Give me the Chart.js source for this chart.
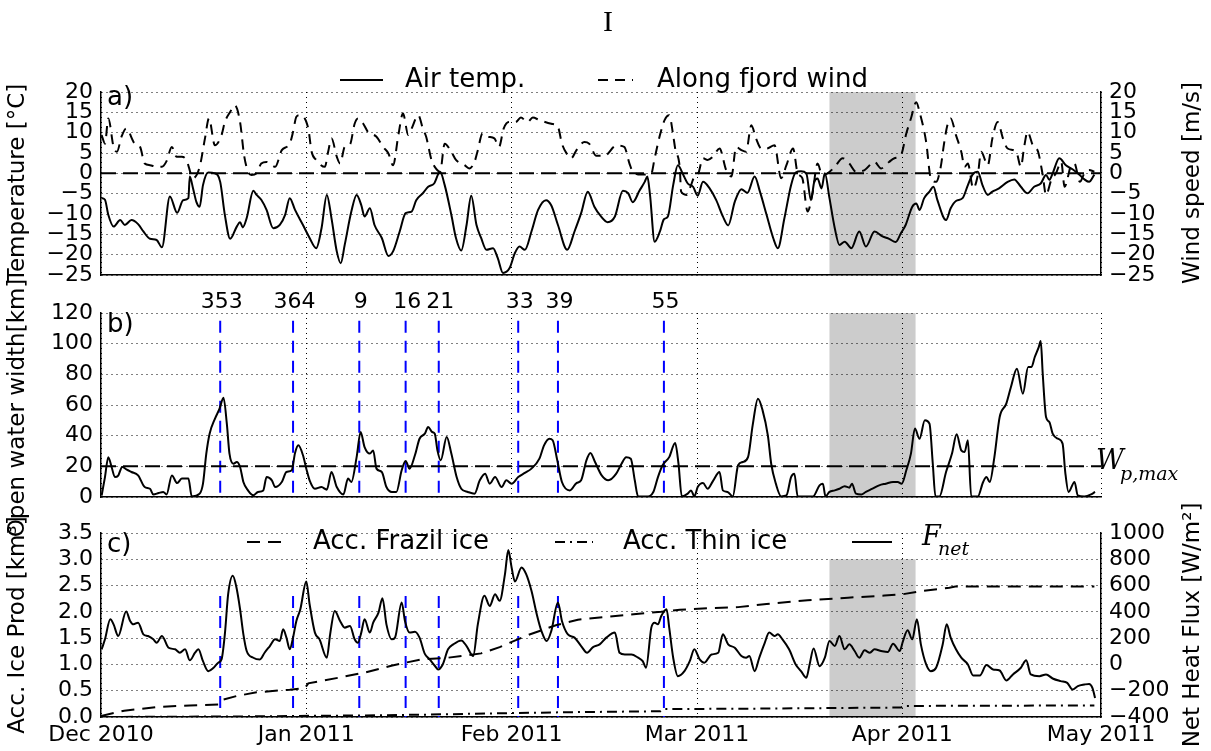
<!DOCTYPE html>
<html>
<head>
<meta charset="utf-8">
<script src="https://cdn.jsdelivr.net/npm/chart.js@4.4.1/dist/chart.umd.min.js"></script>
<style>
  html, body { margin: 0; padding: 0; background: #fff; }
  #wrap { position: relative; width: 1211px; height: 751px; }
  #wrap canvas { position: absolute; left: 0; top: 0; }
</style>
</head>
<body>
<div id="wrap">
  <canvas id="panelA" width="1211" height="751"></canvas>
  <canvas id="panelB" width="1211" height="751"></canvas>
  <canvas id="panelC" width="1211" height="751"></canvas>
</div>
<script>
// x values are days since 1 Dec 2010
const monthTicks = [0, 31, 62, 90, 121, 151];
const monthLabels = ['Dec 2010', 'Jan 2011', 'Feb 2011', 'Mar 2011', 'Apr 2011', 'May 2011'];

// day-of-year of the marked events (blue dashed lines)
const eventDoy = [353, 364, 9, 16, 21, 33, 39, 55];

// shaded period
const shadeStart = 110;
const shadeEnd = 123;

// open water threshold
const wpMax = 20;

// a) air temperature [degC]
const tempDays = [0.1, 0.6, 1.1, 1.9, 2.9, 3.6, 4.6, 5.6, 6.4, 7.4, 8.4, 9.2, 10.4, 11.5, 12.4, 13.2, 13.4, 13.9, 14.4, 14.9,
  15.4, 16.2, 17.2, 18.0, 18.7, 19.5, 20.5, 21.0, 21.4, 22.0, 23.0, 23.5, 24.2, 25.0, 26.0, 27.0, 27.8, 28.5, 29.3, 30.5,
  31.5, 32.5, 33.3, 34.1, 34.8, 35.6, 36.2, 36.8, 37.8, 38.6, 39.3, 39.8, 40.6, 41.3, 42.4, 43.4, 44.1, 45.1, 46.0, 46.9,
  47.6, 48.6, 49.4, 50.3, 51.2, 51.9, 52.9, 53.6, 54.4, 55.2, 55.9, 56.7, 57.4, 58.2, 59.2, 59.9, 60.7, 61.7, 62.5, 63.2,
  64.0, 65.0, 66.0, 67.2, 68.0, 69.0, 70.4, 71.5, 72.5, 73.5, 74.5, 75.5, 76.5, 77.6, 78.8, 79.6, 80.3, 81.3, 82.1, 82.5,
  82.9, 83.6, 84.4, 85.0, 85.6, 86.4, 87.1, 87.9, 88.6, 89.4, 90.1, 90.9, 91.9, 92.9, 93.9, 94.7, 95.7, 96.7, 97.6, 98.7,
  99.5, 100.5, 101.5, 102.2, 103.2, 104.2, 104.9, 105.7, 106.5, 107.2, 107.7, 108.2, 108.8, 109.3, 110.0, 110.8, 111.5, 112.3, 113.3, 114.5,
  115.5, 116.8, 118.0, 119.0, 120.0, 120.8, 121.5, 122.5, 123.1, 123.6, 124.3, 125.1, 125.7, 126.3, 127.6, 128.3, 129.1, 130.1, 130.9, 131.6,
  132.4, 133.1, 133.9, 134.6, 135.6, 136.9, 137.9, 138.9, 139.9, 140.9, 141.9, 142.7, 143.2, 143.7, 144.7, 145.7, 146.7, 147.7, 148.5, 149.2, 150.0];
const tempVals = [-6.1, -6.5, -10.2, -13.1, -11.5, -12.7, -11.5, -12.5, -14.3, -16.1, -16.4, -18.2, -5.7, -9.7, -6.6, -6.1, -0.8, -3.7, -7.0, -8.2,
  -2.9, 0.2, 0.0, -2.1, -10.2, -16.1, -13.1, -12.0, -13.3, -11.0, -4.3, -5.3, -6.5, -9.0, -13.5, -12.7, -10.2, -6.1, -9.0, -12.7,
  -15.9, -18.4, -13.5, -5.3, -11.0, -19.2, -22.1, -17.6, -9.4, -5.3, -7.8, -10.6, -8.6, -12.7, -15.9, -20.3, -19.2, -14.3, -9.8, -9.4,
  -6.6, -4.9, -3.3, -2.5, 0.4, -2.9, -10.2, -15.9, -19.0, -12.7, -5.5, -12.7, -15.9, -18.8, -18.4, -20.8, -24.5, -23.3, -19.6, -18.0,
  -18.8, -14.3, -9.0, -6.6, -7.9, -12.7, -18.8, -14.3, -9.8, -4.5, -8.2, -10.6, -12.0, -10.6, -4.3, -4.9, -7.1, -4.3, -2.1, -0.8,
  -5.3, -16.8, -14.3, -11.3, -10.6, -2.9, 2.0, -0.3, -2.5, -3.3, -5.5, -2.1, -3.7, -6.6, -10.6, -12.8, -7.0, -3.9, -4.8, -0.8,
  -4.5, -10.2, -15.9, -18.4, -11.0, -2.9, 0.2, 0.5, 0.0, -6.6, -2.1, -1.3, -3.7, 0.0, -6.1, -13.5, -17.6, -16.8, -18.4, -14.3,
  -18.0, -14.3, -15.5, -16.1, -16.9, -14.7, -12.7, -8.2, -7.4, -9.0, -6.1, -4.5, -3.3, -6.6, -11.5, -8.6, -6.8, -6.1, -2.9, -0.3,
  0.4, -2.9, -5.3, -4.5, -3.7, -2.1, -1.5, -3.3, -4.9, -3.3, -2.5, -0.4, -1.6, 0.0, 3.7, 2.0, 1.0, -0.3, -1.5, -2.1, -0.3];

// a) along fjord wind [m/s]
const windDays = [0.1, 0.6, 1.1, 1.9, 2.4, 3.1, 3.8, 5.1, 5.9, 6.6, 7.4, 8.4, 9.2, 9.9, 10.7, 11.4, 12.2, 12.9, 13.9, 14.9,
  15.7, 16.3, 17.2, 18.2, 18.7, 19.5, 20.2, 21.0, 21.6, 22.2, 22.7, 23.5, 24.2, 25.0, 25.8, 26.3, 27.3, 28.5, 29.0, 29.5,
  30.0, 31.3, 31.8, 32.5, 33.8, 34.3, 34.8, 35.6, 36.1, 36.8, 37.6, 38.3, 38.8, 39.6, 40.3, 41.6, 42.6, 43.4, 44.1, 44.9,
  45.6, 46.4, 46.9, 47.9, 48.6, 49.1, 49.9, 50.4, 51.2, 51.9, 52.9, 53.6, 54.9, 55.6, 56.4, 56.9, 57.6, 58.4, 59.4, 60.1,
  60.8, 61.6, 62.6, 63.4, 64.4, 65.2, 66.2, 68.0, 69.0, 69.6, 70.3, 71.0, 71.8, 73.0, 73.7, 74.8, 76.0, 77.8, 79.0, 79.8,
  80.3, 81.6, 83.1, 83.6, 84.4, 85.1, 85.8, 86.4, 86.7, 87.4, 87.6, 88.4, 89.1, 89.6, 90.1, 90.9, 91.6, 92.4, 93.4, 94.4,
  95.2, 95.9, 96.7, 97.4, 98.2, 98.9, 99.7, 100.5, 101.7, 102.7, 103.5, 104.5, 105.2, 105.9, 106.7, 107.4, 108.2, 108.9, 109.7, 110.8,
  112.0, 113.0, 114.0, 115.3, 116.8, 117.8, 119.0, 119.8, 120.8, 121.6, 122.3, 123.1, 123.6, 124.6, 125.3, 126.1, 126.8, 127.3, 127.8, 128.3,
  129.1, 129.9, 130.4, 130.9, 131.7, 132.4, 132.9, 133.9, 134.6, 135.4, 136.2, 136.9, 138.2, 138.9, 139.4, 139.9, 140.7, 141.5, 142.2, 142.7,
  143.5, 144.2, 145.0, 145.5, 146.5, 147.0, 147.8, 148.5, 149.2, 150.0];
const windVals = [9.4, 7.3, 13.5, 6.5, 5.3, 9.0, 11.0, 7.3, 6.5, 2.4, 2.0, 1.6, 1.6, 3.0, 6.5, 4.1, 4.1, 3.3, -1.2, 1.6,
  8.6, 13.5, 6.9, 9.4, 12.6, 15.1, 16.7, 12.6, 4.5, 0.4, -0.4, 0.0, 2.4, 2.8, 2.0, 1.6, 5.7, 7.3, 10.2, 13.9,
  14.3, 11.0, 5.3, 3.3, 1.6, 5.3, 8.6, 4.1, 2.4, 6.5, 7.1, 12.2, 13.5, 12.2, 10.2, 9.0, 6.5, 4.9, 2.0, 9.4,
  14.7, 9.4, 11.0, 14.3, 11.0, 9.0, 3.3, 1.6, 0.4, 7.3, 5.3, 3.3, 2.0, 1.2, 2.8, 5.7, 9.8, 9.0, 8.6, 6.5,
  11.0, 12.6, 12.6, 13.7, 12.6, 13.7, 13.1, 12.2, 11.4, 7.3, 4.9, 3.7, 5.7, 7.7, 7.3, 4.3, 4.3, 6.8, 6.5, 2.4,
  0.4, -0.3, 0.0, 3.7, 9.4, 13.1, 14.3, 9.4, 6.1, 1.2, -4.5, -5.3, -2.9, -0.8, -0.4, 3.7, 3.3, 4.1, 6.1, 0.8,
  -0.8, 6.5, 5.7, 5.3, 11.8, 8.6, 6.1, 6.1, 6.9, -1.2, 2.0, 6.1, 0.0, -1.2, -9.4, -5.3, 2.4, -0.4, 0.0, 1.6,
  3.7, 2.4, 0.4, 0.8, 2.8, 1.2, 2.8, 3.7, 4.5, 9.8, 13.5, 17.5, 15.1, 7.7, -1.2, -2.1, 1.6, 7.3, 11.8, 13.5,
  9.4, 5.3, 1.6, 2.4, -3.7, -0.4, 5.3, 2.0, 8.6, 12.6, 8.6, 6.1, 5.3, 1.6, 6.5, 10.2, 6.9, 5.3, -0.4, -5.3,
  -1.6, 0.0, 2.8, -3.3, 2.0, 2.4, -2.1, 0.0, 0.8, 0.4];

// b) open water width [km]
const widthDays = [0.1, 0.6, 1.1, 1.6, 2.1, 2.6, 3.2, 3.9, 4.6, 5.6, 6.6, 7.4, 7.9, 8.7, 9.4, 9.9, 10.7, 11.5, 12.2, 13.2,
  13.7, 14.9, 15.4, 15.9, 16.4, 17.2, 17.9, 18.5, 19.0, 19.4, 20.0, 20.5, 21.0, 21.5, 22.2, 23.0, 23.7, 24.5, 25.0, 25.8,
  26.3, 27.3, 28.0, 28.8, 29.3, 29.8, 30.5, 31.0, 31.5, 32.3, 33.3, 34.1, 34.8, 35.6, 36.6, 37.3, 37.8, 38.6, 39.2, 39.8,
  40.6, 41.1, 41.6, 42.4, 43.1, 43.9, 44.6, 45.4, 46.0, 46.6, 47.4, 48.1, 48.9, 49.4, 50.0, 50.4, 50.8, 51.3, 52.2, 52.9,
  53.7, 54.4, 55.4, 56.4, 57.2, 58.0, 58.7, 59.5, 60.5, 61.2, 62.0, 63.0, 64.0, 65.0, 66.2, 66.9, 67.7, 68.2, 68.9, 69.6,
  70.8, 71.8, 72.5, 73.3, 73.9, 74.6, 75.6, 76.6, 77.8, 78.6, 79.3, 80.0, 80.6, 81.1, 82.6, 83.4, 84.1, 84.8, 85.8, 86.7,
  87.2, 87.7, 88.6, 89.1, 89.6, 90.1, 90.9, 91.6, 92.4, 93.4, 93.9, 94.6, 95.4, 96.2, 96.9, 97.7, 98.4, 99.2, 99.9, 100.7,
  101.2, 101.9, 102.7, 103.5, 104.2, 104.7, 105.2, 107.5, 108.5, 109.0, 109.4, 110.0, 110.8, 111.5, 112.3, 113.0, 113.4, 114.0, 114.8, 115.5,
  116.5, 117.5, 118.5, 119.6, 120.3, 120.9, 121.6, 122.3, 122.9, 123.6, 124.4, 125.1, 125.6, 126.0, 126.6, 127.6, 128.5, 129.2, 129.9, 130.4,
  130.9, 131.4, 132.4, 133.2, 133.7, 134.2, 134.9, 135.7, 136.7, 137.4, 138.3, 139.2, 140.0, 140.5, 141.0, 141.6, 141.9, 142.2, 142.7, 143.2,
  143.7, 144.5, 145.2, 145.6, 146.1, 147.0, 147.5, 148.5, 149.5, 150.1];
const widthVals = [1, 13, 26, 19.6, 13, 14, 19.6, 17.8, 16.3, 14.1, 6.5, 5.4, 1.7, 2.6, 3.3, 1.7, 14.1, 9.1, 12, 12,
  0.4, 2.2, 8.7, 28.3, 41.3, 51, 57.6, 64.8, 47.8, 28.3, 21.7, 22.8, 19.6, 9.8, 4.3, 1.1, 3.3, 4.3, 13, 10.9,
  6.5, 9.8, 16.3, 17.4, 28.7, 33.7, 27.2, 18.5, 10.9, 5.4, 6.5, 4.8, 16.3, 6.5, 1.7, 12, 9.8, 26, 42.4, 32.6,
  28.3, 30.4, 18.5, 16.3, 6.5, 3.3, 3.3, 17.4, 23.5, 18.5, 27.2, 38, 41.3, 45.7, 42.4, 41.3, 30.4, 23.9, 39.1, 28.3,
  13, 5.4, 3.3, 2.2, 10.9, 15.2, 8.7, 13, 6.5, 10.9, 8.7, 13, 15.7, 18.5, 25, 33.7, 38, 37, 23.9, 9.8,
  4.3, 9.1, 10.9, 23.9, 28.7, 22.8, 14.1, 10.9, 15.2, 21.7, 26, 25, 10.9, 0.4, 0.4, 3.3, 13, 20.7, 26, 35.2,
  21.7, 0.4, 2.2, 4.3, 0.4, 6.5, 9.1, 5.4, 10.4, 16.3, 4.3, 3.3, 0.4, 20.7, 22.8, 26, 46.7, 64.1, 56.5, 40,
  21.7, 8.7, 0.4, 1, 13, 15.2, 0.4, 0.4, 7.6, 8.7, 0.4, 3.3, 4.3, 5.4, 7, 6.1, 8.7, 2.2, 1.7, 3.3,
  5.4, 7.6, 8.7, 9.8, 9.8, 8.7, 17.4, 28.3, 44.6, 38, 50, 47.8, 21.7, 0.4, 0.4, 16.3, 28.3, 40.9, 30.4, 29.3,
  37, 0.4, 0.4, 9.8, 13, 9.8, 26, 52.2, 60.9, 71.7, 83.7, 67.4, 84.8, 84.8, 91.3, 97.8, 101.7, 80.4, 52.2, 48.9,
  41.3, 38, 34.8, 16.3, 3.3, 9.8, 1, 0.4, 1.7, 3.3];

// c) net heat flux [W/m2]
const fluxDays = [0.1, 0.6, 1.4, 1.9, 2.6, 3.8, 4.4, 4.9, 5.6, 6.4, 7.1, 7.9, 8.4, 9.2, 10.2, 11.2, 11.9, 12.7, 13.4, 14.2,
  14.7, 15.4, 16.2, 17.0, 17.7, 18.2, 18.7, 19.2, 19.9, 20.4, 21.0, 21.5, 22.0, 23.0, 24.0, 24.7, 25.5, 26.3, 27.0, 27.5,
  28.0, 28.5, 29.0, 29.5, 30.1, 31.0, 31.5, 32.3, 33.0, 34.1, 34.6, 35.3, 36.1, 36.8, 37.6, 38.3, 38.8, 39.3, 39.8, 40.6,
  41.1, 41.9, 42.5, 43.1, 43.9, 44.4, 45.4, 45.9, 46.6, 47.4, 48.1, 48.9, 49.6, 50.4, 50.9, 51.6, 52.4, 53.2, 54.4, 55.2,
  56.2, 56.9, 57.9, 58.7, 59.5, 60.2, 61.0, 61.5, 62.0, 62.5, 63.5, 64.2, 65.0, 65.8, 66.5, 67.3, 68.0, 69.0, 69.6, 70.5,
  71.5, 72.5, 73.4, 74.3, 75.3, 76.3, 77.6, 78.3, 79.1, 80.1, 81.1, 81.8, 82.3, 83.1, 83.6, 84.1, 84.6, 85.4, 85.8, 86.4,
  87.1, 88.1, 88.9, 89.6, 90.4, 91.1, 92.2, 93.2, 93.9, 94.7, 95.7, 96.7, 97.4, 97.9, 98.7, 99.4, 100.2, 100.9, 101.7, 102.2,
  102.9, 103.9, 104.9, 105.7, 106.5, 107.0, 107.6, 108.5, 109.3, 110.0, 110.8, 111.5, 112.3, 113.0, 113.8, 114.5, 115.3, 116.1, 116.8, 117.8,
  118.8, 119.6, 120.6, 121.1, 121.8, 122.5, 123.2, 123.8, 124.6, 125.3, 126.1, 127.1, 127.7, 128.3, 129.1, 129.9, 130.9, 131.7, 132.7, 133.7,
  134.7, 135.7, 136.7, 137.7, 138.9, 139.7, 140.4, 141.7, 142.7, 143.7, 144.9, 145.9, 146.7, 147.5, 148.5, 149.2, 149.7, 150.1];
const fluxVals = [115, 191, 344, 305, 216, 402, 331, 305, 318, 229, 216, 191, 165, 216, 127, 115, 89, 115, 31, 89,
  115, 25, -51, -25, 13, 38, 229, 534, 674, 598, 420, 229, 102, 51, 38, 89, 140, 191, 178, 267,
  204, 115, 204, 331, 420, 631, 458, 242, 191, 51, 229, 407, 331, 280, 293, 191, 165, 242, 344, 242,
  318, 394, 504, 305, 191, 204, 471, 331, 242, 249, 204, 80, 40, -10, -38, 0, 115, 153, 183, 140,
  64, 305, 522, 445, 534, 484, 687, 870, 738, 631, 738, 687, 560, 382, 255, 178, 255, 471, 331, 229,
  204, 140, 89, 132, 153, 204, 242, 89, 76, 76, 51, 25, -25, 280, 318, 305, 369, 420, 280, 51,
  -89, -51, 25, 115, 38, 13, 76, 89, 229, 153, 127, 64, 51, 64, -51, 51, 160, 242, 216, 229,
  191, 115, 0, -51, -102, 0, 122, -13, 51, 178, 140, 216, 115, 153, 102, 51, 107, 89, 115, 102,
  94, 158, 102, 178, 260, 191, 344, 153, 0, -51, -25, 153, 305, 204, 115, 51, 0, -84, -84, -5,
  -38, -46, -122, -76, -25, 31, -76, -89, -76, -107, -127, -140, -191, -165, -153, -148, -178, -255];

// c) accumulated frazil ice production [km3]
const frazilDays = [0, 3.5, 8.4, 13.4, 17.9, 18.4, 20.5, 23.5, 28.5, 30.8, 31.3, 36, 40, 44, 48.5, 51.9, 57.4, 60.2, 64.7, 68.8,
  72.0, 76.6, 80.8, 84.6, 87.4, 91.9, 96.2, 100.5, 106.7, 112.8, 118.3, 120.8, 124.1, 128.1, 129.0, 150.0];
const frazilVals = [0.02, 0.12, 0.19, 0.22, 0.24, 0.33, 0.40, 0.47, 0.52, 0.55, 0.64, 0.75, 0.85, 0.98, 1.10, 1.12, 1.21, 1.33, 1.57, 1.75,
  1.85, 1.91, 1.96, 2.00, 2.04, 2.07, 2.09, 2.15, 2.22, 2.27, 2.31, 2.33, 2.40, 2.46, 2.48, 2.48];

// c) accumulated thin ice production [km3]
const thinDays = [0, 20, 40, 49, 60, 70, 84.5, 85.0, 100, 110, 120.8, 121.2, 150];
const thinVals = [0.0, 0.01, 0.03, 0.045, 0.07, 0.09, 0.11, 0.15, 0.16, 0.17, 0.18, 0.21, 0.22];

const SANS = '"DejaVu Sans", "Liberation Sans", sans-serif';
const SERIF = '"DejaVu Serif", "Liberation Serif", serif';
Chart.defaults.font.family = SANS;
Chart.defaults.font.size = 20;
Chart.defaults.color = '#000';
Chart.defaults.animation = false;

const W = 1211, H = 751;
const PLOT_L = 101, PLOT_R = 1101;

function pts(days, vals) {
  return days.map((d, i) => ({x: d, y: vals[i]}));
}
function withMinus(v) {
  return v < 0 ? '\u2212' + Math.abs(v) : String(v);
}
function eventDay(doy) {
  return doy >= 335 ? doy - 335 : doy + 30;
}
function range(a, b, step) {
  const out = [];
  for (let v = a; v <= b + 1e-9; v += step) out.push(Math.round(v * 100) / 100);
  return out;
}
function line(data, opts) {
  return Object.assign({data, borderColor: '#000', borderWidth: 2, pointRadius: 0, tension: 0, fill: false}, opts);
}
// smoothed series line
function curve(data, opts) {
  return line(data, Object.assign({cubicInterpolationMode: 'monotone'}, opts));
}
function eventLines(top, axis) {
  return eventDoy.map(d => line([{x: eventDay(d), y: top}, {x: eventDay(d), y: 0}],
    {borderColor: '#0000ff', borderDash: [12, 8], yAxisID: axis}));
}
function vText(ctx, text, x, y, font) {
  ctx.save();
  ctx.translate(x, y);
  ctx.rotate(-Math.PI / 2);
  ctx.font = font;
  ctx.textAlign = 'center';
  ctx.textBaseline = 'middle';
  ctx.fillText(text, 0, 0);
  ctx.restore();
}
function legendSample(ctx, x0, x1, y, dash) {
  ctx.save();
  ctx.strokeStyle = '#000';
  ctx.lineWidth = 2;
  ctx.setLineDash(dash);
  ctx.beginPath();
  ctx.moveTo(x0, y);
  ctx.lineTo(x1, y);
  ctx.stroke();
  ctx.restore();
}
function label(ctx, text, x, y, font, align) {
  ctx.save();
  ctx.font = font;
  ctx.textAlign = align || 'left';
  ctx.textBaseline = 'middle';
  ctx.fillText(text, x, y);
  ctx.restore();
}

// grey band for the shaded period, drawn beneath the grid
const shadePlugin = {
  id: 'shade',
  beforeDraw(chart, args, opts) {
    const {ctx, scales} = chart;
    const x0 = scales.x.getPixelForValue(shadeStart);
    const x1 = scales.x.getPixelForValue(shadeEnd);
    const yTop = scales.y.getPixelForValue(opts.top);
    const yBot = scales.y.getPixelForValue(scales.y.min);
    ctx.save();
    ctx.fillStyle = '#cccccc';
    ctx.fillRect(x0, yTop, x1 - x0, yBot - yTop);
    ctx.restore();
  }
};

function makePanel(id, p) {
  const dotted = [1, 4];
  const scales = {
    x: {
      type: 'linear', min: 0, max: 151,
      afterBuildTicks: s => { s.ticks = monthTicks.map(v => ({value: v})); },
      afterFit: s => { s.height = p.xHeight; },
      ticks: {display: p.showX, autoSkip: false, maxRotation: 0, padding: 5, font: {size: 22},
        callback: v => monthLabels[monthTicks.indexOf(v)]},
      grid: {color: '#000', lineWidth: 1, drawTicks: false},
      border: {color: '#000', width: 1.5, dash: dotted}
    },
    y: {
      position: 'left', min: p.left.min, max: p.left.max,
      afterBuildTicks: s => { s.ticks = p.left.ticks.map(v => ({value: v})); },
      afterFit: s => { s.width = PLOT_L; },
      ticks: {autoSkip: false, padding: 8, font: {size: 22}, callback: p.left.fmt},
      grid: {color: '#000', lineWidth: 1, drawTicks: false},
      border: {color: '#000', width: 1.5, dash: dotted}
    }
  };
  if (p.right) {
    scales.y2 = {
      position: 'right', min: p.right.min, max: p.right.max,
      afterBuildTicks: s => { s.ticks = p.right.ticks.map(v => ({value: v})); },
      afterFit: s => { s.width = W - PLOT_R; },
      ticks: {autoSkip: false, padding: 8, font: {size: 22}, callback: p.right.fmt},
      grid: {drawOnChartArea: false, drawTicks: false},
      border: {color: '#000', width: 1.5}
    };
  }
  const decorate = {
    id: 'decorate',
    afterDraw(chart) { p.decorate(chart, chart.ctx); }
  };
  return new Chart(document.getElementById(id), {
    type: 'line',
    data: {datasets: p.datasets},
    options: {
      responsive: false,
      animation: false,
      events: [],
      layout: {padding: {top: p.top, bottom: H - p.bottom - p.xHeight, left: 0, right: p.right ? 0 : W - PLOT_R}},
      scales,
      plugins: {legend: {display: false}, tooltip: {enabled: false}, shade: {top: p.shadeTop}}
    },
    plugins: [shadePlugin, decorate]
  });
}

// a) air temperature and wind
makePanel('panelA', {
  top: 92, bottom: 275, xHeight: 0, showX: false,
  left: {min: -25, max: 20, ticks: range(-25, 20, 5), fmt: withMinus},
  right: {min: -25, max: 20, ticks: range(-25, 20, 5), fmt: withMinus},
  shadeTop: 20,
  datasets: [
    curve(pts(tempDays, tempVals), {yAxisID: 'y'}),
    curve(pts(windDays, windVals), {yAxisID: 'y2', borderDash: [10, 7]}),
    line([{x: 0, y: 0}, {x: 151, y: 0}], {yAxisID: 'y', borderDash: [15, 7]})
  ],
  decorate(chart, ctx) {
    label(ctx, 'I', 608, 23, '30px "Liberation Serif", serif', 'center');
    label(ctx, 'a)', 107, 98, '26px ' + SANS);
    legendSample(ctx, 340, 383, 80, []);
    label(ctx, 'Air temp.', 405, 80, '26px ' + SANS);
    legendSample(ctx, 598, 633, 80, [10, 7]);
    label(ctx, 'Along fjord wind', 657, 80, '26px ' + SANS);
    vText(ctx, 'Temperature [\u00b0C]', 18, 183, '23px ' + SANS);
    vText(ctx, 'Wind speed [m/s]', 1193, 183, '23px ' + SANS);
  }
});

// b) open water width with event markers
makePanel('panelB', {
  top: 313, bottom: 497, xHeight: 0, showX: false,
  left: {min: 0, max: 120, ticks: range(0, 120, 20), fmt: withMinus},
  right: null,
  shadeTop: 120,
  datasets: [
    curve(pts(widthDays, widthVals), {yAxisID: 'y'}),
    line([{x: 0, y: wpMax}, {x: 151, y: wpMax}], {yAxisID: 'y', borderDash: [15, 7]}),
    ...eventLines(115, 'y')
  ],
  decorate(chart, ctx) {
    const xs = chart.scales.x, ys = chart.scales.y;
    label(ctx, 'b)', 107, 325, '26px ' + SANS);
    eventDoy.forEach(d => label(ctx, String(d), xs.getPixelForValue(eventDay(d)) + 1.5, 302, '22px ' + SANS, 'center'));
    const yw = ys.getPixelForValue(wpMax);
    label(ctx, 'W', 1096, yw - 4, 'italic 27px ' + SERIF);
    label(ctx, 'p,max', 1120, yw + 9, 'italic 19px ' + SERIF);
    vText(ctx, 'Open water width[km]', 18, 408, '23px ' + SANS);
  }
});

// c) accumulated ice production and net heat flux
makePanel('panelC', {
  top: 533, bottom: 717, xHeight: 34, showX: true,
  left: {min: 0, max: 3.5, ticks: range(0, 3.5, 0.5), fmt: v => v.toFixed(1)},
  right: {min: -400, max: 1000, ticks: range(-400, 1000, 200), fmt: withMinus},
  shadeTop: 3.0,
  datasets: [
    curve(pts(fluxDays, fluxVals), {yAxisID: 'y2'}),
    line(pts(frazilDays, frazilVals), {yAxisID: 'y', borderDash: [13, 8]}),
    line(pts(thinDays, thinVals), {yAxisID: 'y', borderDash: [10, 5, 2, 5]}),
    ...eventLines(2.3, 'y')
  ],
  decorate(chart, ctx) {
    label(ctx, 'c)', 107, 545, '26px ' + SANS);
    legendSample(ctx, 247, 284, 542, [13, 8]);
    label(ctx, 'Acc. Frazil ice', 313, 542, '26px ' + SANS);
    legendSample(ctx, 555, 593, 542, [10, 5, 2, 5]);
    label(ctx, 'Acc. Thin ice', 623, 542, '26px ' + SANS);
    legendSample(ctx, 852, 892, 542, []);
    label(ctx, 'F', 922, 538, 'italic 27px ' + SERIF);
    label(ctx, 'net', 938, 550, 'italic 19px ' + SERIF);
    vText(ctx, 'Acc. Ice Prod [km\u00b3]', 18, 625, '23px ' + SANS);
    vText(ctx, 'Net Heat Flux [W/m\u00b2]', 1193, 625, '23px ' + SANS);
  }
});
</script>
</body>
</html>
